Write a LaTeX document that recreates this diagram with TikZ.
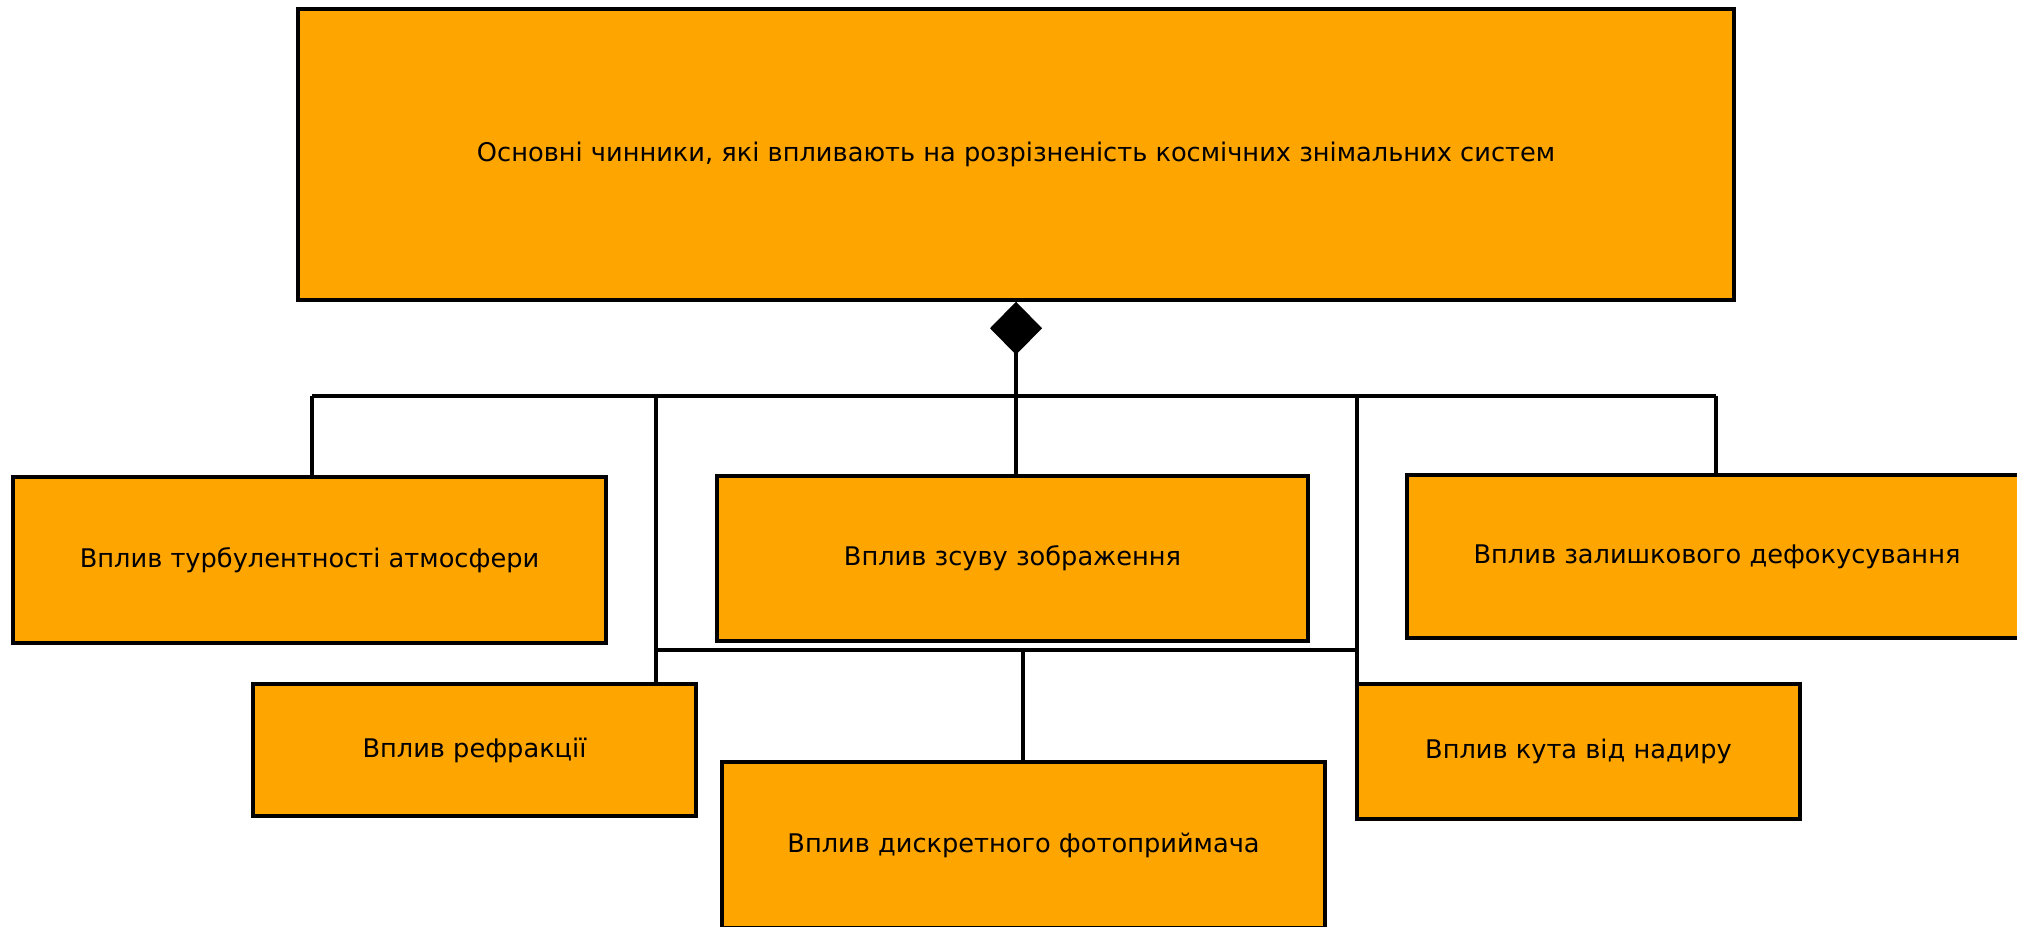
\documentclass[tikz,border=0pt]{standalone}
\usepackage{fontspec}
\setmainfont{DejaVu Sans}
\usetikzlibrary{arrows.meta}

\begin{document}
\begin{tikzpicture}[x=0.1mm, y=-0.1mm, thick]

  % Define Colors
  \definecolor{boxorange}{RGB}{255,165,0}

  % Node styles
  \tikzstyle{obox}=[rectangle, draw, line width=1pt, fill=boxorange, inner sep=0pt, font=\fontsize{7.3}{9}\selectfont]
  \tikzstyle{link}=[line width=1pt, black]

  \useasboundingbox (0,0) rectangle (2017,927);

  % Nodes
  \node[obox, minimum width=143.6mm, minimum height=29.1mm] (n_top) at (1016,154.5) {Основні чинники, які впливають на розрізненість космічних знімальних систем};

  \node[obox, minimum width=59.3mm, minimum height=16.6mm] (n_turb) at (309.5,560) {Вплив турбулентності атмосфери};
  \node[obox, minimum width=59.1mm, minimum height=16.5mm] (n_zsuv) at (1012.5,558.5) {Вплив зсуву зображення};
  \node[obox, minimum width=62mm, minimum height=16.3mm] (n_defok) at (1717,556.5) {Вплив залишкового дефокусування};

  \node[obox, minimum width=44.3mm, minimum height=13.2mm] (n_refr) at (474.5,750) {Вплив рефракції};
  \node[obox, minimum width=44.3mm, minimum height=13.5mm] (n_nadir) at (1578.5,751.5) {Вплив кута від надиру};
  \node[obox, minimum width=60.3mm, minimum height=16.6mm] (n_foto) at (1023.5,845) {Вплив дискретного фотоприймача};

  % Bus points
  \coordinate (c_bus_l) at (312,396);
  \coordinate (c_bus_r) at (1716,396);
  \coordinate (c_refr) at (656,396);
  \coordinate (c_nadir) at (1357,396);
  \coordinate (c_low_l) at (656,650);
  \coordinate (c_low_r) at (1357,650);
  \coordinate (c_foto) at (1023,650);
  \coordinate (c_nadir_end) at (1357,702);

  % Composition link
  \draw[link, -{Diamond[width=5.2mm, length=5.3mm]}] (n_top.south |- n_zsuv.north) -- (n_top.south);

  % Upper bus
  \draw[link] (c_bus_l) -- (c_bus_r);
  \draw[link] (c_bus_l) -- (c_bus_l |- n_turb.north);
  \draw[link] (c_bus_r) -- (c_bus_r |- n_defok.north);
  \draw[link] (c_refr) -- (c_refr |- n_refr.north);
  \draw[link] (c_nadir) -- (c_nadir_end);

  % Lower bus
  \draw[link] (c_low_l) -- (c_low_r);
  \draw[link] (c_foto) -- (c_foto |- n_foto.north);

\end{tikzpicture}
\end{document}
